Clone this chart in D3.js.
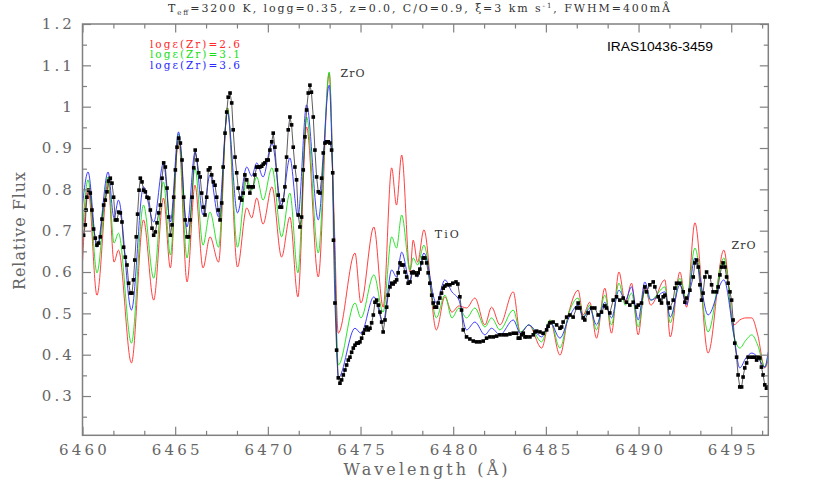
<!DOCTYPE html>
<meta charset="utf-8">
<style>
  body { margin: 0; background: #fff; }
  .frame { fill: none; stroke: #808080; stroke-width: 1.5; }
  .axis path { display: none; }
  .axis line { stroke: #808080; stroke-width: 1.2; }
  .axis text { font: 15px "DejaVu Serif", serif; fill: #666; letter-spacing: 3.2px; }
  .title { font: 11px "DejaVu Serif", serif; fill: #333; }
  .axtitle { font: 16px "DejaVu Serif", serif; fill: #666; }
  .legend { font: 10.5px "DejaVu Serif", serif; }
  .band { font: 11px "DejaVu Serif", serif; fill: #333; }
  .star { font: 12px "Liberation Sans", Arial, sans-serif; fill: #000; }
  .model { fill: none; stroke-width: 0.9; }
  .obs { fill: none; stroke: #333; stroke-width: 0.8; }
</style>
<svg width="817" height="491"></svg>
<script src="https://d3js.org/d3.v7.min.js"></script>
<script>

    var obsWave = [6460.06,6460.15,6460.19,6460.24,6460.33,6460.42,6460.51,6460.60,6460.69,6460.78,
        6460.87,6460.96,6461.05,6461.14,6461.23,6461.32,6461.41,6461.50,6461.59,6461.68,
        6461.77,6461.86,6461.95,6462.04,6462.13,6462.22,6462.31,6462.40,6462.49,6462.58,
        6462.67,6462.75,6462.82,6462.90,6462.97,6463.05,6463.12,6463.21,6463.30,6463.39,
        6463.48,6463.57,6463.66,6463.75,6463.84,6463.93,6464.02,6464.11,6464.20,6464.29,
        6464.38,6464.47,6464.56,6464.65,6464.74,6464.83,6464.92,6465.01,6465.10,6465.19,
        6465.28,6465.37,6465.46,6465.54,6465.64,6465.73,6465.81,6465.91,6466.00,6466.08,
        6466.18,6466.27,6466.35,6466.43,6466.52,6466.61,6466.70,6466.79,6466.88,6466.97,
        6467.06,6467.15,6467.24,6467.32,6467.42,6467.51,6467.59,6467.69,6467.78,6467.86,
        6467.96,6468.05,6468.13,6468.23,6468.32,6468.40,6468.50,6468.59,6468.67,6468.76,
        6468.86,6468.94,6469.03,6469.13,6469.21,6469.30,6469.40,6469.48,6469.57,6469.67,
        6469.75,6469.84,6469.94,6470.02,6470.11,6470.21,6470.29,6470.38,6470.47,6470.56,
        6470.65,6470.74,6470.83,6470.92,6471.01,6471.10,6471.19,6471.28,6471.37,6471.46,
        6471.55,6471.64,6471.73,6471.82,6471.91,6472.00,6472.09,6472.18,6472.27,6472.35,
        6472.45,6472.54,6472.63,6472.72,6472.81,6472.90,6472.99,6473.08,6473.17,6473.26,
        6473.35,6473.44,6473.50,6473.54,6473.62,6473.71,6473.80,6473.89,6473.98,6474.07,
        6474.16,6474.25,6474.34,6474.43,6474.52,6474.61,6474.70,6474.79,6474.88,6474.97,
        6475.06,6475.15,6475.24,6475.33,6475.42,6475.51,6475.60,6475.69,6475.78,6475.87,
        6475.96,6476.05,6476.14,6476.22,6476.32,6476.41,6476.49,6476.59,6476.68,6476.76,
        6476.86,6476.95,6477.03,6477.13,6477.22,6477.30,6477.40,6477.49,6477.57,6477.67,
        6477.76,6477.84,6477.93,6478.03,6478.11,6478.20,6478.30,6478.38,6478.47,6478.57,
        6478.65,6478.74,6478.84,6478.92,6479.01,6479.10,6479.19,6479.28,6479.37,6479.46,
        6479.55,6479.66,6479.82,6479.98,6480.15,6480.25,6480.36,6480.45,6480.54,6480.72,
        6480.90,6481.08,6481.26,6481.44,6481.62,6481.80,6481.98,6482.16,6482.34,6482.52,
        6482.70,6482.88,6483.06,6483.24,6483.42,6483.51,6483.60,6483.69,6483.78,6483.87,
        6483.96,6484.14,6484.32,6484.41,6484.50,6484.68,6484.85,6485.04,6485.12,6485.22,
        6485.39,6485.58,6485.76,6485.85,6485.93,6486.12,6486.30,6486.47,6486.66,6486.74,
        6486.83,6487.01,6487.10,6487.28,6487.47,6487.64,6487.82,6488.00,6488.18,6488.27,
        6488.45,6488.63,6488.81,6488.99,6489.17,6489.35,6489.53,6489.71,6489.89,6489.98,
        6490.16,6490.34,6490.43,6490.61,6490.79,6490.88,6491.06,6491.15,6491.24,6491.33,
        6491.42,6491.60,6491.69,6491.87,6491.96,6492.05,6492.23,6492.41,6492.50,6492.59,
        6492.77,6492.95,6493.04,6493.13,6493.22,6493.31,6493.40,6493.48,6493.58,6493.67,
        6493.85,6493.94,6494.02,6494.21,6494.29,6494.39,6494.48,6494.56,6494.66,6494.75,
        6494.83,6494.93,6495.02,6495.10,6495.19,6495.29,6495.37,6495.46,6495.56,6495.64,
        6495.73,6495.83,6495.91,6496.10,6496.27,6496.37,6496.45,6496.54,6496.63,6496.72,
        6496.81,6496.90,6496.99];
    var obsFlux = [0.689,0.714,0.750,0.781,0.798,0.791,0.750,0.704,0.682,0.665,
        0.670,0.685,0.728,0.762,0.774,0.794,0.820,0.827,0.815,0.781,
        0.726,0.726,0.745,0.743,0.721,0.660,0.636,0.617,0.573,0.549,
        0.549,0.581,0.629,0.685,0.740,0.798,0.827,0.818,0.798,0.794,
        0.781,0.779,0.750,0.706,0.689,0.697,0.719,0.743,0.762,0.827,
        0.864,0.854,0.803,0.733,0.689,0.714,0.781,0.847,0.902,0.924,
        0.912,0.871,0.781,0.726,0.685,0.685,0.726,0.781,0.852,0.895,
        0.871,0.840,0.830,0.791,0.757,0.738,0.781,0.847,0.852,0.835,
        0.818,0.810,0.781,0.750,0.726,0.767,0.854,0.936,0.987,1.023,
        1.033,1.009,0.944,0.878,0.840,0.803,0.779,0.774,0.791,0.835,
        0.823,0.806,0.791,0.806,0.806,0.835,0.854,0.854,0.854,0.856,
        0.861,0.864,0.871,0.871,0.895,0.915,0.936,0.902,0.847,0.786,
        0.757,0.757,0.774,0.806,0.878,0.944,0.975,0.956,0.902,0.854,
        0.823,0.738,0.709,0.733,0.847,0.927,0.992,1.033,1.052,1.035,
        0.975,0.895,0.830,0.794,0.791,0.827,0.888,0.912,0.915,0.915,
        0.912,0.895,0.840,0.677,0.525,0.411,0.344,0.331,0.339,0.351,
        0.363,0.375,0.387,0.394,0.406,0.416,0.423,0.428,0.428,0.431,
        0.440,0.452,0.460,0.467,0.460,0.464,0.477,0.496,0.527,0.532,
        0.520,0.503,0.479,0.455,0.484,0.515,0.544,0.564,0.573,0.571,
        0.576,0.581,0.598,0.622,0.617,0.617,0.600,0.588,0.573,0.576,
        0.598,0.600,0.598,0.593,0.598,0.607,0.622,0.634,0.634,0.622,
        0.598,0.573,0.544,0.525,0.515,0.515,0.525,0.537,0.549,0.561,
        0.566,0.569,0.569,0.573,0.576,0.571,0.540,0.508,0.460,0.443,
        0.438,0.433,0.431,0.431,0.433,0.440,0.443,0.443,0.445,0.448,
        0.448,0.448,0.450,0.452,0.452,0.440,0.440,0.448,0.452,0.443,
        0.443,0.443,0.448,0.455,0.457,0.455,0.452,0.460,0.469,0.477,
        0.479,0.472,0.464,0.467,0.479,0.491,0.496,0.491,0.513,0.525,
        0.513,0.489,0.484,0.501,0.513,0.513,0.496,0.503,0.518,0.513,
        0.501,0.532,0.540,0.532,0.537,0.527,0.520,0.527,0.515,0.520,
        0.525,0.564,0.552,0.569,0.576,0.564,0.540,0.532,0.525,0.540,
        0.544,0.525,0.513,0.532,0.561,0.573,0.573,0.552,0.527,0.537,
        0.556,0.588,0.622,0.629,0.612,0.569,0.532,0.549,0.588,0.600,
        0.588,0.569,0.552,0.552,0.564,0.593,0.612,0.622,0.612,0.588,
        0.573,0.552,0.532,0.484,0.428,0.394,0.351,0.322,0.322,0.346,
        0.368,0.380,0.394,0.394,0.394,0.387,0.394,0.392,0.370,0.351,
        0.327,0.319,0.322];

    // synthetic spectra, extrema of each curve
    var modelWave = [6460.00,6460.30,6460.78,6461.38,6461.70,6461.94,6462.64,6463.29,6463.84,6464.37,
        6464.74,6465.18,6465.64,6466.07,6466.50,6466.88,6467.34,6467.82,6468.36,6468.86,
        6469.13,6469.40,6469.74,6470.22,6470.74,6471.19,6471.62,6472.09,6472.72,6473.31,
        6473.57,6473.80,6474.70,6475.02,6475.72,6476.22,6476.68,6476.94,6477.22,6477.67,
        6477.84,6478.08,6478.42,6479.09,6479.55,6479.93,6480.31,6480.72,6481.17,6481.71,
        6482.07,6482.52,6483.24,6483.62,6484.08,6484.77,6485.22,6485.76,6486.24,6486.74,
        6487.01,6487.37,6487.73,6488.18,6488.54,6488.94,6489.29,6489.62,6489.98,6490.34,
        6490.66,6491.42,6491.71,6492.23,6492.59,6493.04,6493.75,6494.60,6495.14,6495.46,
        6495.79,6496.11,6496.43,6496.81,6496.99];
    var fluxZr26 = [0.624,0.803,0.544,0.818,0.624,0.653,0.380,0.726,0.532,0.779,
        0.610,0.927,0.576,0.810,0.610,0.685,0.624,0.997,0.612,0.755,
        0.731,0.779,0.716,0.806,0.636,0.733,0.540,0.951,0.588,1.081,
        0.738,0.452,0.646,0.525,0.709,0.515,0.852,0.762,0.883,0.600,
        0.677,0.624,0.702,0.460,0.540,0.503,0.518,0.513,0.537,0.472,
        0.515,0.472,0.552,0.452,0.472,0.416,0.484,0.399,0.503,0.556,
        0.496,0.527,0.440,0.561,0.452,0.600,0.525,0.573,0.448,0.564,
        0.520,0.581,0.443,0.600,0.515,0.719,0.404,0.653,0.472,0.484,
        0.489,0.489,0.448,0.368,0.387];
    var fluxZr31 = [0.697,0.823,0.598,0.830,0.670,0.694,0.428,0.762,0.585,0.818,
        0.641,0.934,0.634,0.852,0.665,0.745,0.660,0.997,0.660,0.823,
        0.798,0.830,0.774,0.852,0.685,0.791,0.598,0.975,0.646,1.084,
        0.714,0.375,0.525,0.489,0.593,0.503,0.685,0.658,0.738,0.605,
        0.634,0.617,0.665,0.489,0.544,0.489,0.513,0.489,0.513,0.467,
        0.489,0.460,0.508,0.455,0.472,0.431,0.484,0.416,0.501,0.537,
        0.491,0.520,0.460,0.544,0.472,0.573,0.520,0.549,0.467,0.556,
        0.532,0.564,0.477,0.585,0.532,0.658,0.455,0.634,0.448,0.416,
        0.435,0.448,0.423,0.370,0.399];
    var fluxZr36 = [0.762,0.842,0.660,0.842,0.731,0.774,0.508,0.806,0.721,0.864,
        0.721,0.939,0.709,0.890,0.738,0.835,0.733,0.985,0.743,0.854,
        0.832,0.864,0.830,0.912,0.762,0.876,0.733,1.004,0.726,1.052,
        0.702,0.344,0.464,0.452,0.540,0.479,0.605,0.588,0.648,0.576,
        0.605,0.588,0.646,0.525,0.581,0.552,0.532,0.460,0.479,0.448,
        0.464,0.448,0.484,0.452,0.472,0.443,0.479,0.440,0.489,0.520,
        0.489,0.513,0.472,0.527,0.489,0.556,0.532,0.564,0.484,0.576,
        0.532,0.552,0.491,0.569,0.520,0.634,0.496,0.581,0.448,0.368,
        0.392,0.404,0.394,0.370,0.406];

    var models = [
        {label: "logε(Zr)=2.6", flux: fluxZr26, color: "#ff2a2a"},
        {label: "logε(Zr)=3.1", flux: fluxZr31, color: "#14e014"},
        {label: "logε(Zr)=3.6", flux: fluxZr36, color: "#2a2aff"}
    ];

    var xMajor = [6460, 6465, 6470, 6475, 6480, 6485, 6490, 6495];
    var yMajor = [0.3, 0.4, 0.5, 0.6, 0.7, 0.8, 0.9, 1.0, 1.1, 1.2];
    var yTickLabels = ["0.3", "0.4", "0.5", "0.6", "0.7", "0.8", "0.9", "1", "1.1", "1.2"];
    var bandLabels = [
        {text: "ZrO", wave: 6473.92, flux: 1.072},
        {text: "TiO", wave: 6479.01, flux: 0.682},
        {text: "ZrO", wave: 6495.02, flux: 0.655}
    ];

    var svg = d3.select("svg"),
        plotL = 82.5, plotR = 768.3, plotT = 24, plotB = 435.3;

    var x = d3.scaleLinear().domain([6460, 6497]).range([plotL, plotR]);
    var y = d3.scaleLinear().domain([0.205, 1.2]).range([plotB, plotT]);

    var xMinor = d3.range(6460, 6497.01, 5 / 3).filter(function (d) {
        return Math.abs(d / 5 - Math.round(d / 5)) > 0.01;
    });
    var yMinor = d3.range(0.25, 1.2, 0.1);

    svg.append("rect").attr("width", 817).attr("height", 491).attr("fill", "#fff");

    svg.append("clipPath").attr("id", "plot")
        .append("rect")
        .attr("x", plotL).attr("y", plotT)
        .attr("width", plotR - plotL).attr("height", plotB - plotT);

    // model curves
    var line = d3.line()
        .x(function (d) { return x(d[0]); })
        .y(function (d) { return y(d[1]); })
        .curve(d3.curveMonotoneX);

    var plot = svg.append("g").attr("clip-path", "url(#plot)");

    models.forEach(function (m) {
        plot.append("path")
            .attr("class", "model")
            .attr("stroke", m.color)
            .attr("d", line(modelWave.map(function (w, i) { return [w, m.flux[i]]; })));
    });

    // observed points
    var obs = obsWave.map(function (w, i) { return [w, obsFlux[i]]; });
    plot.append("path")
        .attr("class", "obs")
        .attr("d", line.curve(d3.curveLinear)(obs));
    plot.selectAll("rect.pt").data(obs).enter().append("rect")
        .attr("class", "pt")
        .attr("x", function (d) { return x(d[0]) - 1.8; })
        .attr("y", function (d) { return y(d[1]) - 1.8; })
        .attr("width", 3.6).attr("height", 3.6)
        .attr("fill", "#000");

    // axes, ticks inside on all four sides
    function axes(gen, pos, major, minor, fmt) {
        svg.append("g").attr("class", "axis").attr("transform", pos)
            .call(gen.tickValues(minor).tickSize(-4.5).tickFormat(""));
        svg.append("g").attr("class", "axis").attr("transform", pos)
            .call(gen.tickValues(major).tickSize(-8.5).tickPadding(9).tickFormat(fmt || ""));
    }

    axes(d3.axisBottom(x), "translate(0," + plotB + ")", xMajor, xMinor, d3.format("d"));
    axes(d3.axisTop(x), "translate(0," + plotT + ")", xMajor, xMinor);
    axes(d3.axisLeft(y), "translate(" + plotL + ",0)", yMajor, yMinor,
        function (d, i) { return yTickLabels[i]; });
    axes(d3.axisRight(y), "translate(" + plotR + ",0)", yMajor, yMinor);

    svg.selectAll(".axis text").attr("dx", function () {
        return d3.select(this).attr("text-anchor") === "end" ? "1.5" : "1.6";
    });

    svg.append("rect").attr("class", "frame")
        .attr("x", plotL).attr("y", plotT)
        .attr("width", plotR - plotL).attr("height", plotB - plotT);

    // axis titles
    svg.append("text").attr("class", "axtitle")
        .attr("x", 425.5).attr("y", 475)
        .attr("text-anchor", "middle")
        .attr("textLength", 164).attr("lengthAdjust", "spacing")
        .text("Wavelength (Å)");

    svg.append("text").attr("class", "axtitle")
        .attr("transform", "translate(25,231) rotate(-90)")
        .attr("text-anchor", "middle")
        .attr("textLength", 118).attr("lengthAdjust", "spacing")
        .text("Relative Flux");

    // title
    var title = svg.append("text").attr("class", "title")
        .attr("x", 168).attr("y", 12)
        .attr("textLength", 502).attr("lengthAdjust", "spacing");
    title.append("tspan").text("T");
    title.append("tspan").attr("dy", 2.5).attr("font-size", "7px").text("eff");
    title.append("tspan").attr("dy", -2.5).text("=3200 K, logg=0.35, z=0.0, C/O=0.9, ξ=3 km s");
    title.append("tspan").attr("dy", -4).attr("font-size", "7px").text("-1");
    title.append("tspan").attr("dy", 4).text(", FWHM=400mÅ");

    // legend
    svg.selectAll("text.legend").data(models).enter().append("text")
        .attr("class", "legend")
        .attr("x", 150)
        .attr("y", function (d, i) { return 47.5 + i * 10.5; })
        .attr("fill", function (d) { return d.color; })
        .attr("textLength", 90).attr("lengthAdjust", "spacing")
        .text(function (d) { return d.label; });

    svg.append("text").attr("class", "star")
        .attr("x", 607).attr("y", 51)
        .attr("textLength", 106).attr("lengthAdjust", "spacingAndGlyphs")
        .text("IRAS10436-3459");

    svg.selectAll("text.band").data(bandLabels).enter().append("text")
        .attr("class", "band")
        .attr("x", function (d) { return x(d.wave); })
        .attr("y", function (d) { return y(d.flux); })
        .attr("textLength", 24).attr("lengthAdjust", "spacing")
        .text(function (d) { return d.text; });

</script>
